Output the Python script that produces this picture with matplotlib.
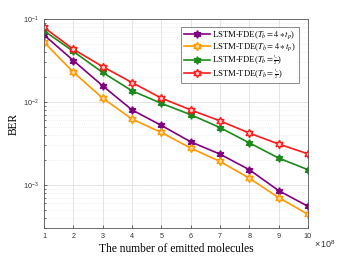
import numpy as np
import matplotlib.pyplot as plt
from matplotlib.ticker import LogLocator, NullFormatter

# number of emitted molecules (x 10^8)
molecules = [1, 2, 3, 4, 5, 6, 7, 8, 9, 10]

ber_fde_4tp = [0.0641, 0.0315, 0.0156, 0.0080, 0.0052, 0.0033, 0.00234, 0.00152, 0.00085, 0.00055]
ber_tde_4tp = [0.0524, 0.0228, 0.0111, 0.0062, 0.00427, 0.00277, 0.00191, 0.00120, 0.00070, 0.00044]
ber_fde_half = [0.0721, 0.0406, 0.0226, 0.0136, 0.0096, 0.0070, 0.0049, 0.0032, 0.0021, 0.00152]
ber_tde_half = [0.079, 0.0431, 0.0266, 0.0171, 0.0111, 0.0080, 0.0059, 0.0042, 0.0031, 0.00236]

labels = [r"LSTM-FDE($T_b = 4 \ast t_p$)", r"LSTM-TDE($T_b = 4 \ast t_p$)",
          r"LSTM-FDE($T_b = \genfrac{}{}{0.5}{2}{t_p}{2}$)",
          r"LSTM-TDE($T_b = \genfrac{}{}{0.5}{2}{t_p}{2}$)"]

plt.rcParams['mathtext.fontset'] = 'stix'

fig = plt.figure(figsize=(3.41, 2.56), dpi=100)
ax = fig.add_axes([0.129, 0.109, 0.774, 0.817])

star6 = (6, 1, 0)
ax.plot(molecules, ber_fde_4tp, color='#800080', marker=star6, ms=5.5, lw=1.2,
        mfc='#800080', label=labels[0])
ax.plot(molecules, ber_tde_4tp, color='#ff9900', marker=star6, ms=6, lw=1.2,
        mfc='#ffd699', label=labels[1])
ax.plot(molecules, ber_fde_half, color='#1a8a1a', marker=star6, ms=5.5, lw=1.2,
        mfc='#1a8a1a', label=labels[2])
ax.plot(molecules, ber_tde_half, color='#ff1a1a', marker=star6, ms=6, lw=1.2,
        mfc='#ffcccc', label=labels[3])

ax.set_yscale('log')
ax.set_xlim(1, 10)
ax.set_ylim(3e-4, 1e-1)
ax.set_xticks(molecules)
ax.yaxis.set_major_locator(LogLocator(base=10, numticks=10))
ax.yaxis.set_minor_locator(LogLocator(base=10, subs=np.arange(2, 10), numticks=20))
ax.yaxis.set_minor_formatter(NullFormatter())

ax.grid(True, which='major', color='#e0e0e0', lw=0.6)
ax.grid(True, which='minor', axis='y', color='#e6e6e6', lw=0.5, ls=':')
ax.set_axisbelow(True)

ax.tick_params(labelsize=5.2, width=0.5, length=2.5, direction='in', colors='#333333')
ax.tick_params(which='minor', width=0.4, length=1.5, direction='in')
for lbl in ax.get_xticklabels() + ax.get_yticklabels():
    lbl.set_fontfamily('Liberation Sans')
for s in ax.spines.values():
    s.set_linewidth(0.6)
    s.set_color('#555555')

ax.set_xlabel('The number of emitted molecules', fontsize=8.3, family='Liberation Serif', labelpad=2)
ax.set_ylabel('BER', fontsize=8.3, family='Liberation Serif', labelpad=3)
ax.text(1.022, -0.048, r'$\mathregular{\times\,10^8}$', transform=ax.transAxes, fontsize=6.5,
        family='Liberation Sans', va='top', ha='left', color='#333333')

leg = ax.legend(loc='upper right', prop={'family': 'Liberation Serif', 'size': 6.2},
                frameon=True, fancybox=False, edgecolor='#555555', borderpad=0.3,
                labelspacing=0.0, handlelength=3.0, handletextpad=0.3,
                borderaxespad=0.3, bbox_to_anchor=(0.975, 0.975))
leg.get_frame().set_linewidth(0.6)

fig.savefig('out.png', dpi=100)
